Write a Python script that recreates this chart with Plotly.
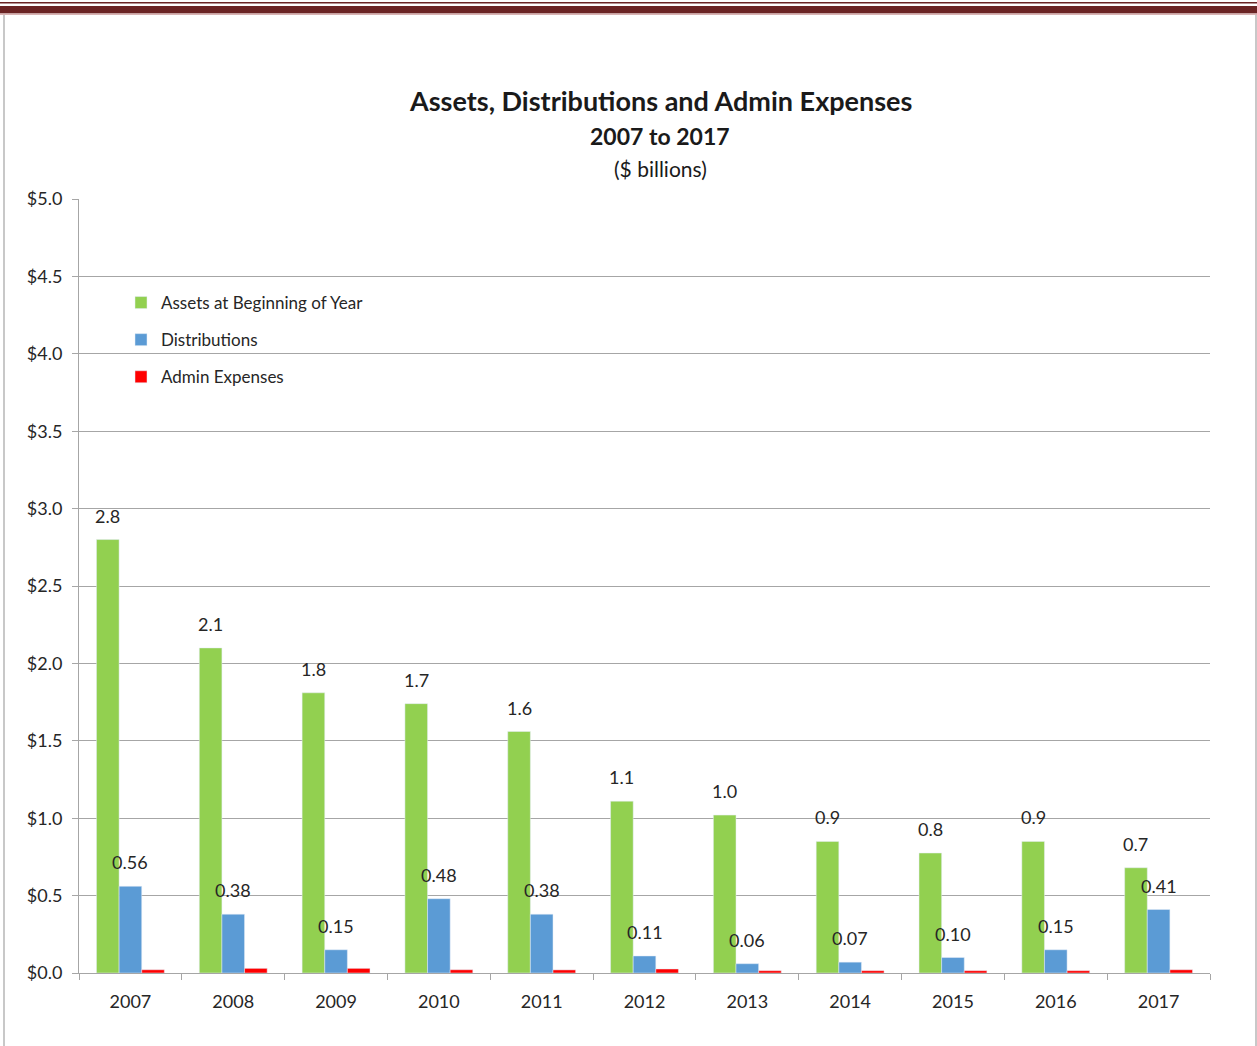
import plotly.graph_objects as go

years = ["2007", "2008", "2009", "2010", "2011", "2012", "2013", "2014", "2015", "2016", "2017"]
assets = [2.80, 2.10, 1.81, 1.74, 1.56, 1.11, 1.02, 0.85, 0.775, 0.85, 0.68]
assets_labels = ["2.8", "2.1", "1.8", "1.7", "1.6", "1.1", "1.0", "0.9", "0.8", "0.9", "0.7"]
distributions = [0.56, 0.38, 0.15, 0.48, 0.38, 0.11, 0.06, 0.07, 0.10, 0.15, 0.41]
distributions_labels = ["0.56", "0.38", "0.15", "0.48", "0.38", "0.11", "0.06", "0.07", "0.10", "0.15", "0.41"]
admin = [0.021, 0.03, 0.03, 0.021, 0.02, 0.026, 0.015, 0.015, 0.015, 0.015, 0.021]
y_ticks = [0.0, 0.5, 1.0, 1.5, 2.0, 2.5, 3.0, 3.5, 4.0, 4.5, 5.0]
y_tick_labels = ["$0.0", "$0.5", "$1.0", "$1.5", "$2.0", "$2.5", "$3.0", "$3.5", "$4.0", "$4.5", "$5.0"]

W, H = 1257, 1046
L, R, T, B = 79, 1210, 199, 973
FONT = "Lato"
TXT = "#262626"
BARGAP = 0.34


def px_x(px):
    return (px - L) / (R - L)


def px_y(py):
    return (B - py) / (B - T)


fig = go.Figure()
fig.add_trace(go.Bar(x=years, y=assets, name="Assets at Beginning of Year",
                     marker_color="#92d050", legendgroup="a"))
fig.add_trace(go.Bar(x=years, y=distributions, name="Distributions",
                     marker_color="#5b9bd5", legendgroup="b"))
fig.add_trace(go.Bar(x=years, y=admin, name="Admin Expenses",
                     marker_color="#ff0000", legendgroup="c"))

bar_w = (1 - BARGAP) / 3  # in category units

annotations = []
for i, (v, lab) in enumerate(zip(assets, assets_labels)):
    annotations.append(dict(x=i - bar_w, y=v, text=lab, showarrow=False,
                            yshift=24, font=dict(family=FONT, size=18, color=TXT)))
for i, (v, lab) in enumerate(zip(distributions, distributions_labels)):
    annotations.append(dict(x=i, y=v, text=lab, showarrow=False,
                            yshift=24, font=dict(family=FONT, size=18, color=TXT)))

annotations += [
    dict(xref="paper", yref="paper", x=px_x(660), y=px_y(101), text="<b>Assets, Distributions and Admin Expenses</b>",
         showarrow=False, font=dict(family=FONT, size=27, color="#1a1a1a"), yanchor="middle"),
    dict(xref="paper", yref="paper", x=px_x(660), y=px_y(136), text="<b>2007 to 2017</b>",
         showarrow=False, font=dict(family=FONT, size=23, color="#1a1a1a"), yanchor="middle"),
    dict(xref="paper", yref="paper", x=px_x(660), y=px_y(168), text="($ billions)",
         showarrow=False, font=dict(family=FONT, size=21, color="#1a1a1a"), yanchor="middle"),
]

shapes = [
    dict(type="rect", xref="paper", yref="paper", x0=px_x(0), x1=px_x(W), y0=px_y(2), y1=px_y(3.5),
         fillcolor="#6b2424", line_width=0, layer="above"),
    dict(type="rect", xref="paper", yref="paper", x0=px_x(0), x1=px_x(W), y0=px_y(6), y1=px_y(13.5),
         fillcolor="#6b2424", line_width=0, layer="above"),
    dict(type="rect", xref="paper", yref="paper", x0=px_x(0), x1=px_x(W), y0=px_y(13.5), y1=px_y(15),
         fillcolor="#d9b3b3", line_width=0, layer="above"),
    dict(type="rect", xref="paper", yref="paper", x0=px_x(3), x1=px_x(5), y0=px_y(15), y1=px_y(H),
         fillcolor="#c8c8c8", line_width=0, layer="above"),
    dict(type="rect", xref="paper", yref="paper", x0=px_x(1255), x1=px_x(1257), y0=px_y(15), y1=px_y(H),
         fillcolor="#c8c8c8", line_width=0, layer="above"),
]

fig.update_layout(
    width=W, height=H,
    margin=dict(l=L, r=W - R, t=T, b=H - B, pad=0),
    paper_bgcolor="white", plot_bgcolor="white",
    barmode="group", bargap=BARGAP, bargroupgap=0,
    showlegend=True,
    legend=dict(x=px_x(121), y=px_y(285), xanchor="left", yanchor="top",
                font=dict(family=FONT, size=17, color=TXT), bgcolor="rgba(0,0,0,0)",
                tracegroupgap=12, itemwidth=30),
    annotations=annotations,
    shapes=shapes,
    font=dict(family=FONT),
)
fig.update_xaxes(type="category", range=[-0.5, len(years) - 0.5], autorange=False,
                 showline=True, linecolor="#a6a6a6", linewidth=1,
                 ticks="outside", tickson="boundaries", ticklen=6, tickcolor="#a6a6a6",
                 ticklabelstandoff=12,
                 tickfont=dict(family=FONT, size=18, color=TXT), showgrid=False, tickangle=0)
fig.update_yaxes(range=[0, 5], tickvals=y_ticks, ticktext=y_tick_labels,
                 showline=True, linecolor="#a6a6a6", linewidth=1,
                 ticks="outside", ticklen=6, tickcolor="#a6a6a6", ticklabelstandoff=6,
                 showgrid=True, gridcolor="#a6a6a6", gridwidth=1, zeroline=False,
                 tickfont=dict(family=FONT, size=18, color=TXT))

fig.write_html("out.html")
